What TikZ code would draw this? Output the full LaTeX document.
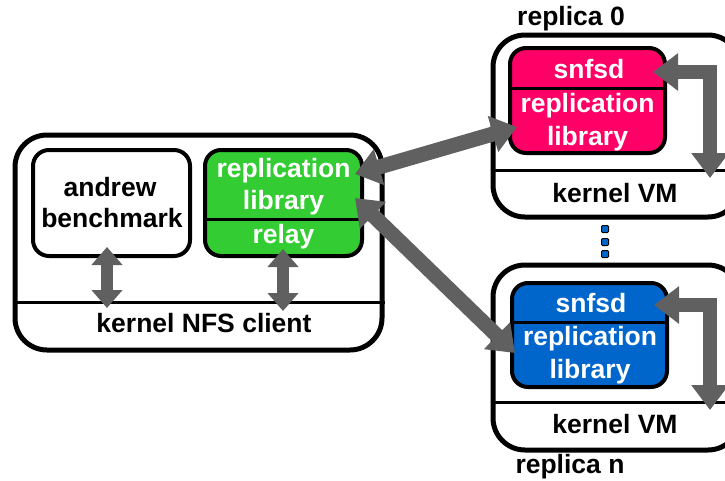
\documentclass[tikz,border=0pt]{standalone}
\usepackage{fontspec}
\setmainfont{Liberation Sans}
\usetikzlibrary{arrows.meta}

\definecolor{libgreen}{RGB}{51,204,51}
\definecolor{libpink}{RGB}{255,0,102}
\definecolor{libblue}{RGB}{0,102,204}
\definecolor{arrowgray}{RGB}{96,96,96}

\tikzset{
  lbl/.style={anchor=base, inner sep=0pt, font=\fontsize{26.5}{31}\selectfont\bfseries},
  wlbl/.style={lbl, text=white},
  hostbox/.style={draw, line width=5pt, rounded corners=32pt, inner sep=0pt},
  procbox/.style={draw, line width=4pt, rounded corners=16pt, inner sep=0pt},
  sepline/.style={line width=3pt},
  fatarrow/.style={draw=arrowgray, line width=#1, line join=miter},
  smallhead/.style={{Triangle[width=30pt,length=18pt]}-{Triangle[width=30pt,length=18pt]}},
  bighead/.style={{Triangle[width=36pt,length=25pt]}-{Triangle[width=36pt,length=25pt]}},
  dotbox/.style={draw, line width=1pt, fill=libblue, minimum size=7pt, inner sep=0pt, rounded corners=1pt},
}

\begin{document}
\begin{tikzpicture}[x=1pt, y=-1pt]
\clip (0,0) rectangle (725,480);

% client machine
\node[hostbox, minimum width=367pt, minimum height=215pt] (client) at (198.5,242.5) {};
\draw[sepline] (client.west |- 0,302) -- (client.east |- 0,302);
\node[procbox, minimum width=157pt, minimum height=106pt] (andrew) at (111.5,203) {};
\node[procbox, fill=libgreen, minimum width=157pt, minimum height=106pt] (relaylib) at (283.5,203) {};
\draw[sepline] (relaylib.west |- 0,219) -- (relaylib.east |- 0,219);

\node[lbl] (tandrew) at (110,196) {andrew};
\node[lbl] (tbench) at (112,227) {benchmark};
\node[wlbl] (trepl) at (283.5,177) {replication};
\node[wlbl] (tlib) at (283.5,209) {library};
\node[wlbl] (trelay) at (283.5,243) {relay};
\node[lbl] (tnfs) at (204,332) {kernel NFS client};

% replica 0
\node[hostbox, minimum width=247pt, minimum height=182pt] (rep0) at (616.5,126) {};
\draw[sepline] (rep0.west |- 0,170) -- (rep0.east |- 0,170);
\node[procbox, fill=libpink, minimum width=155pt, minimum height=105pt] (pink) at (587.5,100.5) {};
\draw[sepline] (pink.west |- 0,88) -- (pink.east |- 0,88);
\node[wlbl] (psnfsd) at (589,78) {snfsd};
\node[wlbl] (prepl) at (587.5,112) {replication};
\node[wlbl] (plib) at (587.5,145) {library};
\node[lbl] (pvm) at (615,202) {kernel VM};
\node[lbl] (ptitle) at (571,25) {replica 0};

% replica n
\node[hostbox, minimum width=247pt, minimum height=185pt] (repn) at (616.5,357.5) {};
\draw[sepline] (repn.west |- 0,402) -- (repn.east |- 0,402);
\node[procbox, fill=libblue, minimum width=155pt, minimum height=104pt] (blue) at (589.5,335) {};
\draw[sepline] (blue.west |- 0,322) -- (blue.east |- 0,322);
\node[wlbl] (bsnfsd) at (591,312) {snfsd};
\node[wlbl] (brepl) at (590,345) {replication};
\node[wlbl] (blib) at (590,378) {library};
\node[lbl] (bvm) at (615,433) {kernel VM};
\node[lbl] (btitle) at (570,473) {replica n};

% ellipsis between the replicas
\node[dotbox] (d1) at (605,229) {};
\node[dotbox] (d2) at (605,242) {};
\node[dotbox] (d3) at (605,254) {};

% arrow end points
\coordinate (aTop) at (107,247);
\coordinate (aBot) at (107,308);
\coordinate (rTop) at (283,249);
\coordinate (rBot) at (283,311);
\coordinate (gUp) at (355,174);
\coordinate (gDown) at (355,198);
\coordinate (pIn) at (517,127);
\coordinate (bIn) at (515,353);
\coordinate (p0s) at (653,72);
\coordinate (p0k) at (710,178);
\coordinate (pns) at (654,305);
\coordinate (pnk) at (710,410);

% local arrows in the client
\draw[fatarrow=12pt, smallhead] (aTop) -- (aBot);
\draw[fatarrow=12pt, smallhead] (rTop) -- (rBot);

% links to the replicas
\draw[fatarrow=15pt, bighead] (gUp) -- (pIn);
\draw[fatarrow=15pt, bighead] (gDown) -- (bIn);

% snfsd to kernel VM
\draw[fatarrow=14pt, bighead] (p0s) -| (p0k);
\draw[fatarrow=14pt, bighead] (pns) -| (pnk);
\end{tikzpicture}
\end{document}
